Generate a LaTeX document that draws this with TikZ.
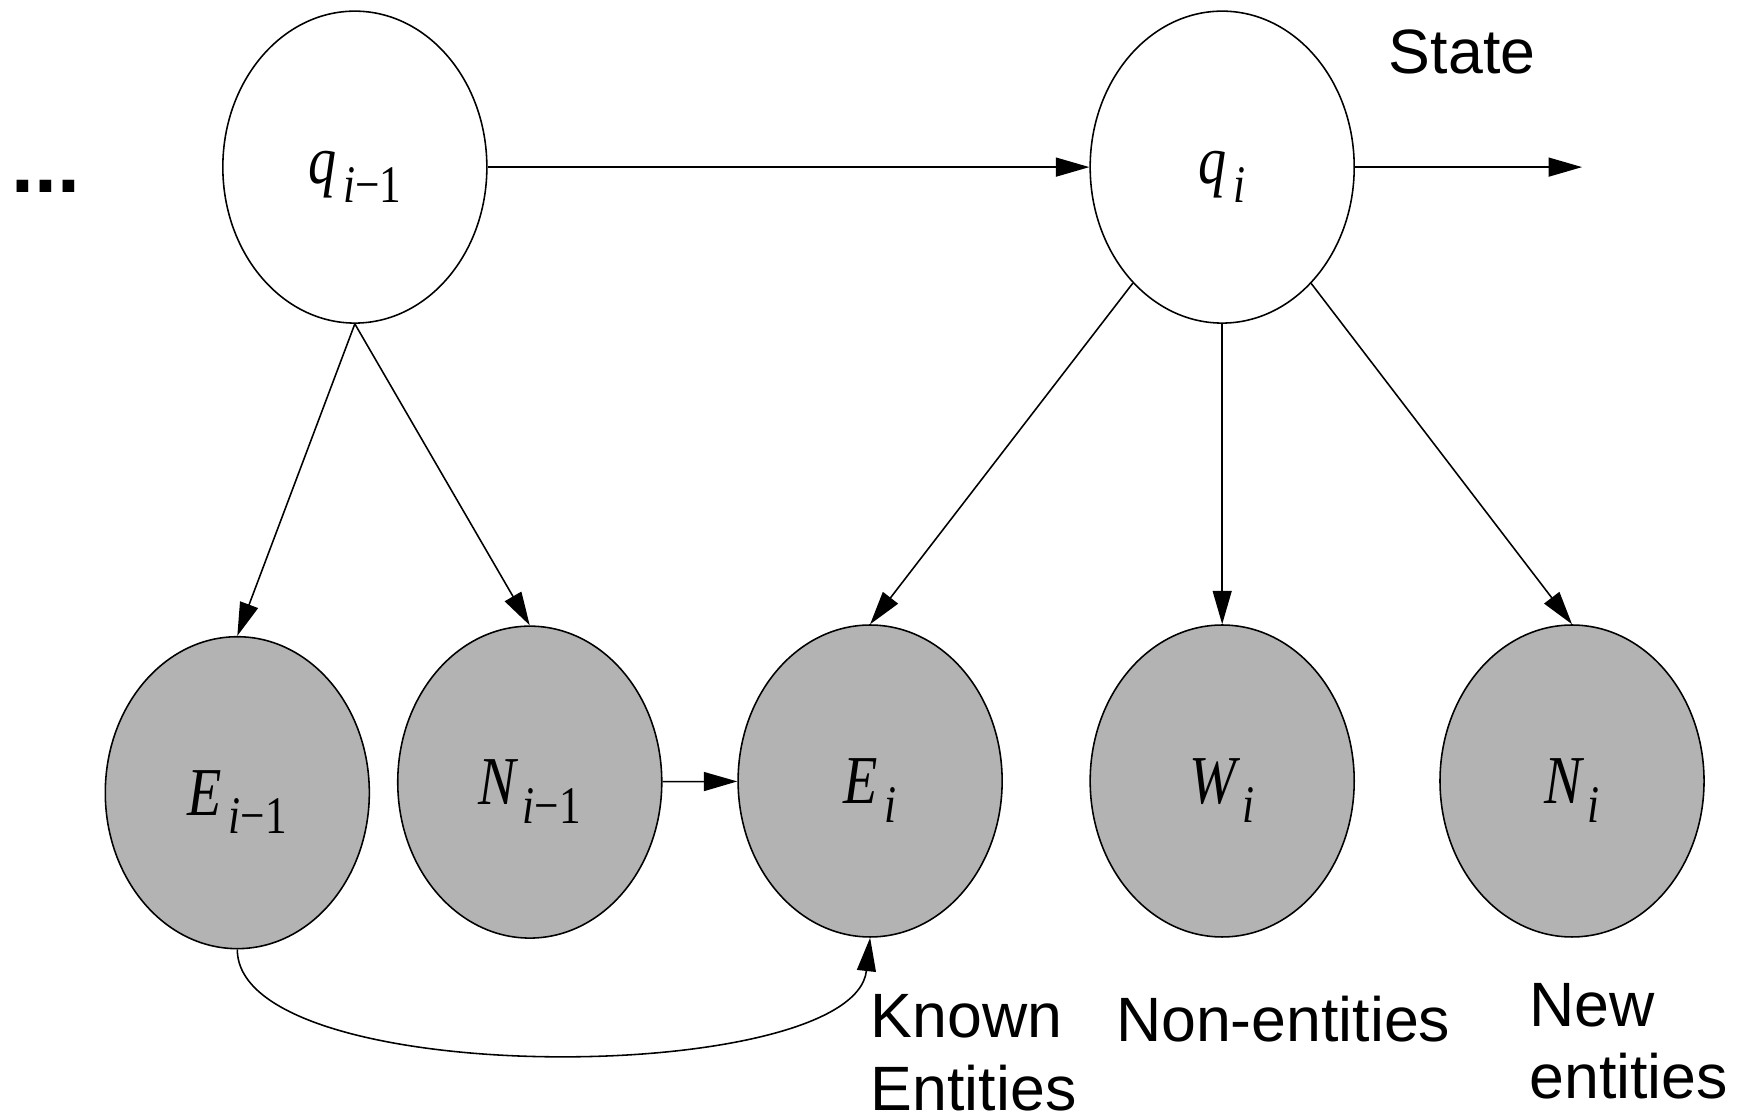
\documentclass[tikz,border=0pt]{standalone}
\usepackage{fontspec}
\usepackage{tikz}
\usetikzlibrary{shapes.geometric,arrows.meta}
\newfontfamily\arial{Liberation Sans}
\newfontfamily\tnr{Liberation Serif}[ItalicFont={Liberation Serif Italic}]
\definecolor{obsgray}{RGB}{179,179,179}
\newcommand{\idx}[2]{{\tnr\fontsize{17.5}{17.5}\selectfont\scalebox{0.82}[1]{\itshape #1\kern2pt\raisebox{-4.8pt}{\fontsize{13.5}{13.5}\selectfont\upshape #2}}}}
\tikzstyle{hidden} = [ellipse, draw, minimum width=2.37cm, minimum height=2.8cm, inner sep=0pt, text depth=0pt]
\tikzstyle{observed} = [hidden, fill=obsgray]
\tikzstyle{caption} = [align=left, anchor=north west, inner sep=0pt, font=\arial\fontsize{16}{18.5}\selectfont]

\begin{document}
\begin{tikzpicture}[>={Triangle[length=3mm,width=1.7mm]}]
\useasboundingbox (0,0) rectangle (15.6,-10.044);

\node (dots) at (0.415,-1.675) {\arial\bfseries\fontsize{21}{21}\selectfont ...};
\node[hidden] (q1) at (3.185,-1.5) {\idx{q}{\textit{i}−1}};
\node[hidden] (q2) at (10.97,-1.5) {\idx{q}{\textit{i}}};
\coordinate (out) at (14.2,-1.5);
\node[anchor=base west, inner sep=0pt, font=\arial\fontsize{16}{16}\selectfont] (state) at (12.46,-0.66) {State};

\node[observed] (E1) at (2.13,-7.115) {\idx{E}{\textit{i}−1}};
\node[observed] (N1) at (4.755,-7.02) {\idx{N}{\textit{i}−1}};
\node[observed] (E2) at (7.81,-7.01) {\idx{E}{\textit{i}}};
\node[observed] (W) at (10.97,-7.01) {\idx{W}{\textit{i}}};
\node[observed] (N2) at (14.11,-7.01) {\idx{N}{\textit{i}}};

\node[caption] (known) at (7.81,-8.92) {Known\\Entities};
\node[caption] (non) at (10.01,-8.93) {Non-entities};
\node[caption] (new) at (13.72,-8.82) {New\\entities};

\draw [->] (q1) -- (q2);
\draw [->] (q2) -- (out);
\draw [->] (q1.south) -- (E1.north);
\draw [->] (q1.south) -- (N1.north);
\draw [->] (q2) -- (E2.north);
\draw [->] (q2.south) -- (W.north);
\draw [->] (q2) -- (N2.north);
\draw [->] (N1) -- (E2);
\draw [->] (E1.south) .. controls +(0,-1.27) and +(-0.15,-1.34) .. (E2.south);

\end{tikzpicture}
\end{document}
